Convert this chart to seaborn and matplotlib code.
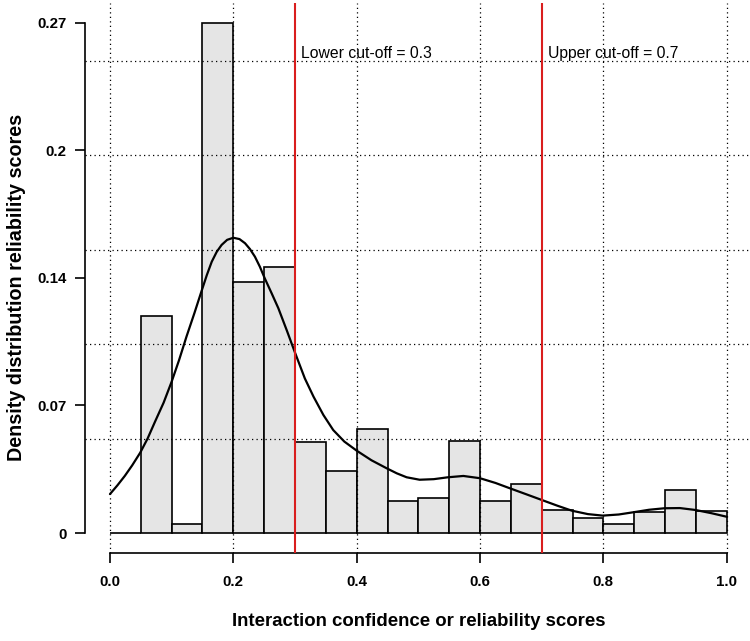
import matplotlib
matplotlib.use("Agg")
import matplotlib.pyplot as plt
import seaborn as sns
import numpy as np

# ---- data -------------------------------------------------------------
bin_edges = [0.00, 0.05, 0.10, 0.15, 0.20, 0.25, 0.30, 0.35, 0.40, 0.45, 0.50,
             0.55, 0.60, 0.65, 0.70, 0.75, 0.80, 0.85, 0.90, 0.95, 1.00]
bin_heights = [0.0, 0.115, 0.005, 0.270, 0.133, 0.141, 0.048, 0.033, 0.055, 0.017,
               0.0185, 0.0487, 0.0171, 0.0261, 0.0123, 0.0078, 0.0049, 0.011, 0.0229, 0.0116]

curve_x = [0.000, 0.012, 0.024, 0.036, 0.049, 0.061, 0.073, 0.087, 0.100, 0.112,
           0.124, 0.137, 0.149, 0.157, 0.165, 0.173, 0.181, 0.190, 0.200, 0.210,
           0.219, 0.227, 0.235, 0.243, 0.251, 0.262, 0.273, 0.287, 0.300, 0.316,
           0.330, 0.346, 0.362, 0.380, 0.400, 0.424, 0.449, 0.465, 0.481, 0.502,
           0.525, 0.548, 0.573, 0.600, 0.625, 0.649, 0.675, 0.700, 0.725, 0.749,
           0.775, 0.799, 0.825, 0.849, 0.874, 0.899, 0.924, 0.949, 0.975, 1.000]
curve_y = [0.0206, 0.0252, 0.0302, 0.0358, 0.0425, 0.0500, 0.0589, 0.0690, 0.0801, 0.0915,
           0.1039, 0.1165, 0.1286, 0.1365, 0.1436, 0.1488, 0.1525, 0.1552, 0.1563, 0.1556,
           0.1534, 0.1503, 0.1463, 0.1410, 0.1348, 0.1270, 0.1190, 0.1070, 0.0955, 0.0818,
           0.0722, 0.0625, 0.0545, 0.0484, 0.0436, 0.0385, 0.0342, 0.0316, 0.0295, 0.0282,
           0.0285, 0.0295, 0.0302, 0.0290, 0.0265, 0.0236, 0.0205, 0.0175, 0.0145, 0.0118,
           0.0100, 0.0092, 0.0098, 0.0110, 0.0123, 0.0131, 0.0132, 0.0122, 0.0105, 0.0086]

cutoffs = [0.3, 0.7]
cutoff_labels = ["Lower cut-off = 0.3", "Upper cut-off = 0.7"]

x_ticks = [0.0, 0.2, 0.4, 0.6, 0.8, 1.0]
x_tick_labels = ["0.0", "0.2", "0.4", "0.6", "0.8", "1.0"]
y_ticks = [0.0, 0.0675, 0.135, 0.2025, 0.27]
y_tick_labels = ["0", "0.07", "0.14", "0.2", "0.27"]
y_grid = [0.0, 0.05, 0.10, 0.15, 0.20, 0.25]

x_label = "Interaction confidence or reliability scores"
y_label = "Density distribution reliability scores"

# ---- plot -------------------------------------------------------------
sns.set_style("white")
plt.rcParams["font.family"] = ["Liberation Sans", "DejaVu Sans"]
plt.rcParams["text.color"] = "black"
plt.rcParams["axes.labelcolor"] = "black"
plt.rcParams["xtick.color"] = "black"
plt.rcParams["ytick.color"] = "black"

fig = plt.figure(figsize=(7.5, 6.41), dpi=100)
ax = fig.add_axes([0.11373, 0.13666, 0.88813, 0.8593])

centers = [(a + b) / 2 for a, b in zip(bin_edges[:-1], bin_edges[1:])]
sns.histplot(x=centers, weights=bin_heights, bins=bin_edges, stat="count",
             color="#E5E5E5", edgecolor="black", linewidth=1.2, alpha=1.0,
             ax=ax, zorder=1)

sns.lineplot(x=curve_x, y=curve_y, color="black", linewidth=1.6, ax=ax,
             zorder=3, sort=True, solid_joinstyle="round")

for c in cutoffs:
    ax.axvline(c, color="#D91E1E", linewidth=1.5, zorder=4)

for c, lab in zip(cutoffs, cutoff_labels):
    ax.annotate(lab, xy=(c, 0.2541), xytext=(4.5, 0), textcoords="offset points",
                ha="left", va="center", fontsize=11.3, color="black", zorder=5)

ax.set_xlim(-0.04, 1.04)
ax.set_ylim(-0.0108, 0.2808)

ax.set_xticks(x_ticks)
ax.set_xticklabels(x_tick_labels, fontsize=10.8, fontweight="bold")
ax.set_yticks(y_ticks)
ax.set_yticklabels(y_tick_labels, fontsize=10.8, fontweight="bold")
ax.set_yticks(y_grid, minor=True)
ax.set_xticks([], minor=True)

ax.tick_params(axis="both", which="major", direction="out", length=7.2, width=1.2,
               color="black", labelcolor="black", bottom=True, left=True)
ax.tick_params(axis="x", which="major", pad=8)
ax.tick_params(axis="y", which="major", pad=6.5)
ax.tick_params(axis="y", which="minor", length=0, left=False)

ax.set_axisbelow(False)
dot = (0, (1, 2.6))
ax.grid(False)
ax.xaxis.grid(True, which="major", color="black", linestyle=dot, linewidth=0.9)
ax.yaxis.grid(True, which="minor", color="black", linestyle=dot, linewidth=0.9)
ax.yaxis.grid(False, which="major")

for s in ["top", "right"]:
    ax.spines[s].set_visible(False)
ax.spines["left"].set_bounds(0, 0.27)
ax.spines["bottom"].set_bounds(0, 1)
for s in ["left", "bottom"]:
    ax.spines[s].set_linewidth(1.2)
    ax.spines[s].set_color("black")

ax.set_xlabel(x_label, fontsize=13.4, fontweight="bold", color="black")
ax.set_ylabel(y_label, fontsize=14.2, fontweight="bold", color="black")
ax.xaxis.set_label_coords(0.5, -0.108)
ax.yaxis.set_label_coords(-0.089, 0.483)

fig.savefig("out.png", dpi=100)
